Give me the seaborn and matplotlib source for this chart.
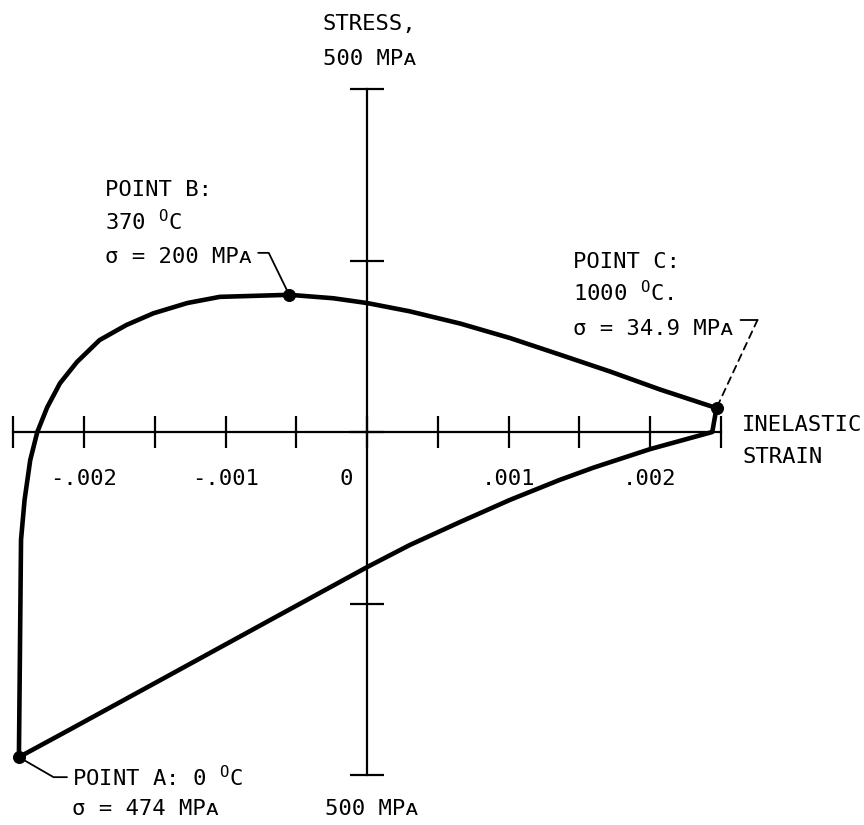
import numpy as np
import pandas as pd
import matplotlib
matplotlib.use("Agg")
import matplotlib.pyplot as plt
from matplotlib.transforms import offset_copy
import seaborn as sns

# upper branch: A -> B -> C (strain, stress in MPa)
upper_strain = [-0.00246, -0.002445, -0.00242, -0.00238, -0.00233, -0.00226, -0.00217,
                -0.00205, -0.00189, -0.00170, -0.00151, -0.00127, -0.00104, -0.00071,
                -0.00055, -0.00024, 0.0, 0.00030, 0.00066, 0.00101, 0.00136, 0.00172,
                0.00207, 0.00247]
upper_stress = [-474, -157, -99, -41, 0, 36, 71, 102, 134, 156, 173, 188, 197, 199,
                200, 195, 188, 176, 158, 137, 113, 88, 62, 34.9]

# lower branch: C -> A
lower_strain = [0.00247, 0.00244, 0.00200, 0.00160, 0.00136, 0.00101, 0.00066, 0.00030,
                0.0, -0.00071, -0.00141, -0.00212, -0.00246]
lower_stress = [34.9, 0, -25, -52, -70, -99, -131, -165, -197, -277, -356, -436, -474]

point_names = ["A", "B", "C"]
point_strain = [-0.00246, -0.00055, 0.00247]
point_stress = [-474, 200, 34.9]

xtick_vals = [-0.0025, -0.002, -0.0015, -0.001, -0.0005, 0.0, 0.0005, 0.001, 0.0015, 0.002, 0.0025]
xtick_labels = ["", "-.002", "", "-.001", "", "0 ", "", ".001", "", ".002", ""]
ytick_vals = [-500, -250, 0, 250, 500]

W, H = 864, 825
FONT = ["DejaVu Sans Mono", "DejaVu Sans"]

sns.set_theme(style="white")
plt.rcParams["font.family"] = FONT
plt.rcParams["mathtext.fontset"] = "custom"
plt.rcParams["mathtext.rm"] = "DejaVu Sans Mono"

fig = plt.figure(figsize=(W / 100, H / 100), dpi=100)
ax = fig.add_axes([0, 0, 1, 1])

# pixel layout: origin at (367, 432), 141.5 px per 0.001, 0.686 px per MPa
x0, y0, sx, sy = 367, 432, 141500.0, 0.686

loop = pd.DataFrame({
    "strain": upper_strain + lower_strain,
    "stress": upper_stress + lower_stress,
})
sns.lineplot(data=loop, x="strain", y="stress", sort=False, estimator=None,
             color="black", lw=3.3, ax=ax)
sns.scatterplot(x=point_strain, y=point_stress, color="black", s=75,
                edgecolor="black", zorder=5, ax=ax)

ax.set_xlim(-x0 / sx, (W - x0) / sx)
ax.set_ylim(-(H - y0) / sy, y0 / sy)

# axes crossing at origin
for side in ["top", "right"]:
    ax.spines[side].set_visible(False)
for side in ["left", "bottom"]:
    ax.spines[side].set_position(("data", 0))
    ax.spines[side].set_color("black")
    ax.spines[side].set_linewidth(1.6)
ax.spines["bottom"].set_bounds(xtick_vals[0], xtick_vals[-1])
ax.spines["left"].set_bounds(ytick_vals[0], ytick_vals[-1])

ax.set_xticks(xtick_vals)
ax.set_xticklabels(xtick_labels)
ax.set_yticks(ytick_vals)
ax.set_yticklabels([])
ax.tick_params(axis="x", direction="inout", length=23, width=1.6, color="black",
               labelsize=16, labelcolor="black", pad=15, bottom=True)
ax.tick_params(axis="y", direction="inout", length=24, width=1.6, color="black",
               left=True)
for lab in ax.get_xticklabels():
    if lab.get_text().strip() == "0":
        lab.set_horizontalalignment("right")
ax.set_xlabel("")
ax.set_ylabel("")


def px(x, y):
    return x / W, 1 - y / H


deg = r"$\mathregular{^{O}}$C"
fs = 16
texts = [
    ("POINT B:", 105, 196, "left"),
    ("370 " + deg, 105, 230, "left"),
    ("σ = 200 MPᴀ", 105, 263, "left"),
    ("POINT C:", 573, 268, "left"),
    ("1000 " + deg + ".", 573, 301, "left"),
    ("σ = 34.9 MPᴀ", 573, 335, "left"),
    ("POINT A: 0 " + deg, 72, 786, "left"),
    ("σ = 474 MPᴀ", 72, 815, "left"),
    ("INELASTIC", 742, 431, "left"),
    ("STRAIN", 742, 463, "left"),
    ("STRESS,", 369, 30, "center"),
    ("500 MPᴀ", 370, 65, "center"),
    ("500 MPᴀ", 372, 815, "center"),
]
for s, x, y, ha in texts:
    fig.text(*px(x, y), s, ha=ha, va="baseline", fontsize=fs, family=FONT, color="black")

# leader lines (offsets in points from each marked point)
a = (point_strain[0], point_stress[0])
b = (point_strain[1], point_stress[1])
c = (point_strain[2], point_stress[2])
lk = dict(arrowstyle="-", color="black", lw=1.3, shrinkA=0, shrinkB=0)
ax.annotate("", xy=b, xytext=(-22.3, 30.2), textcoords="offset points",
            arrowprops=dict(connectionstyle="angle,angleA=0,angleB=116,rad=0", **lk))
ax.annotate("", xy=a, xytext=(34.6, -14.4), textcoords="offset points",
            arrowprops=dict(connectionstyle="angle,angleA=0,angleB=-30,rad=0", **lk))
# point C: dashed diagonal, then short solid piece towards the label
ax.annotate("", xy=c, xytext=(29.5, 63.4), textcoords="offset points",
            arrowprops=dict(linestyle=(0, (4, 3)), **lk))
corner = offset_copy(ax.transData, fig=fig, x=29.5, y=63.4, units="points")
ax.annotate("", xy=c, xycoords=corner, xytext=(-12.2, 0), textcoords="offset points",
            arrowprops=dict(**lk))

fig.savefig("out.png", dpi=100)
